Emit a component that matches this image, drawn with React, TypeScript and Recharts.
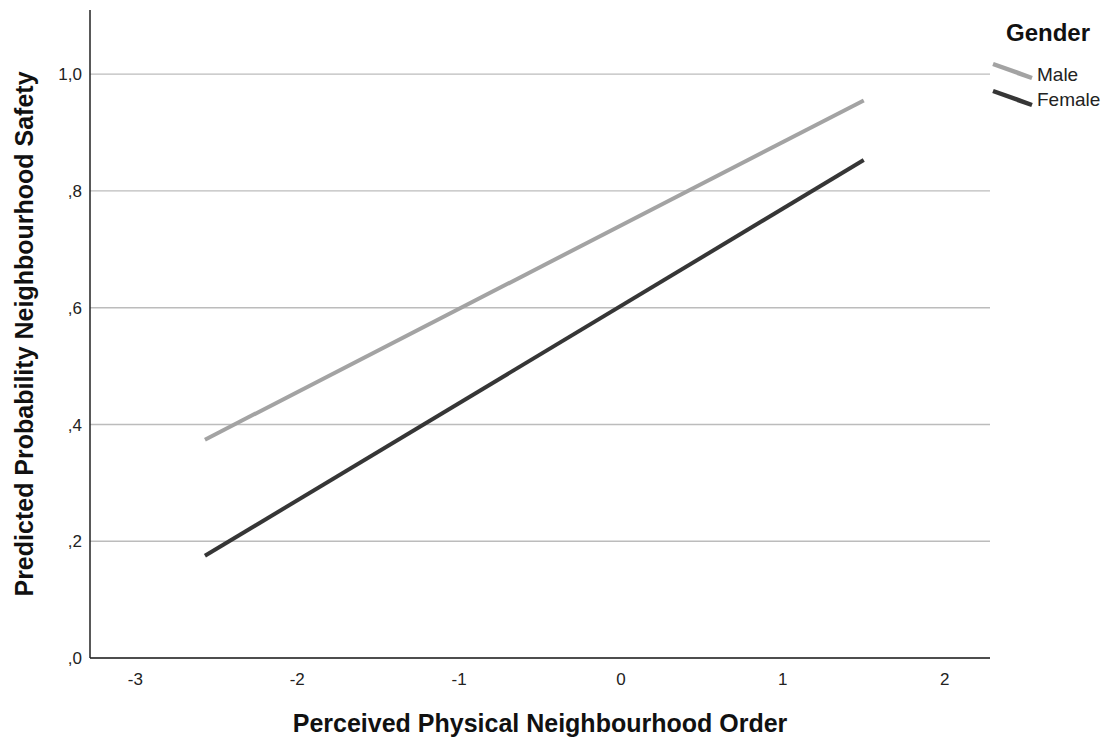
import { LineChart, Line, XAxis, YAxis, CartesianGrid } from 'recharts';

// predictor values at which the fitted lines are drawn
const orderValues = [-2.57, 1.5];
const maleProb = [0.374, 0.955];
const femaleProb = [0.175, 0.853];

const xTicks = [-3, -2, -1, 0, 1, 2];
const yTicks = [0, 0.2, 0.4, 0.6, 0.8, 1.0];
const yTickLabels = [',0', ',2', ',4', ',6', ',8', '1,0'];

const seriesNames = ['Male', 'Female'];
const seriesColors = ['#a3a3a3', '#363636'];

const data = orderValues.map((x, i) => ({
  x,
  Male: maleProb[i],
  Female: femaleProb[i],
}));

const font = '"Liberation Sans", Arial, sans-serif';

function GenderLegend() {
  return (
    <div style={{ position: 'absolute', left: 990, top: 0, width: 118, height: 120, fontFamily: font }}>
      <div
        style={{
          position: 'absolute',
          left: 16,
          top: 19,
          fontSize: 24,
          fontWeight: 'bold',
          color: '#111',
          whiteSpace: 'nowrap',
        }}
      >
        Gender
      </div>
      <svg width={50} height={120} style={{ position: 'absolute', left: 0, top: 0 }}>
        {seriesNames.map((name, i) => (
          <line
            key={name}
            x1={3}
            y1={64 + i * 27}
            x2={42}
            y2={78 + i * 27}
            stroke={seriesColors[i]}
            strokeWidth={4.5}
          />
        ))}
      </svg>
      {seriesNames.map((name, i) => (
        <span
          key={name}
          style={{
            position: 'absolute',
            left: 47,
            top: 64 + i * 25,
            fontSize: 19,
            color: '#222',
            whiteSpace: 'nowrap',
          }}
        >
          {name}
        </span>
      ))}
    </div>
  );
}

export default function App() {
  return (
    <div style={{ position: 'absolute', left: 0, top: 0, width: 1108, height: 738, background: '#fff' }}>
      <LineChart
        width={1108}
        height={738}
        data={data}
        margin={{ top: 10, right: 118, left: 0, bottom: 0 }}
        style={{ fontFamily: font }}
      >
        <CartesianGrid
          horizontal
          vertical={false}
          syncWithTicks
          stroke="#bcbcbc"
          strokeWidth={1.3}
        />
        <XAxis
          dataKey="x"
          type="number"
          domain={[-3.28, 2.28]}
          ticks={xTicks}
          height={80}
          tickLine={false}
          tickSize={0}
          tickMargin={15}
          axisLine={{ stroke: '#222', strokeWidth: 1.5 }}
          tick={{ fill: '#222', fontSize: 17 }}
          label={{
            value: 'Perceived Physical Neighbourhood Order',
            position: 'insideBottom',
            offset: 6,
            style: { fontSize: 25, fontWeight: 'bold', fill: '#111' },
          }}
        />
        <YAxis
          type="number"
          domain={[0, 1.11]}
          ticks={yTicks}
          width={90}
          tickLine={false}
          tickSize={0}
          tickMargin={8}
          axisLine={{ stroke: '#222', strokeWidth: 1.5 }}
          tick={{ fill: '#222', fontSize: 17 }}
          tickFormatter={(v: number) => yTickLabels[yTicks.findIndex((t) => Math.abs(t - v) < 1e-6)] ?? ''}
          label={{
            value: 'Predicted Probability Neighbourhood Safety',
            angle: -90,
            position: 'insideLeft',
            offset: 24,
            style: { fontSize: 25, fontWeight: 'bold', fill: '#111', textAnchor: 'middle' },
          }}
        />
        <Line
          dataKey="Male"
          stroke={seriesColors[0]}
          strokeWidth={4}
          dot={false}
          isAnimationActive={false}
        />
        <Line
          dataKey="Female"
          stroke={seriesColors[1]}
          strokeWidth={4}
          dot={false}
          isAnimationActive={false}
        />
      </LineChart>
      <GenderLegend />
    </div>
  );
}
